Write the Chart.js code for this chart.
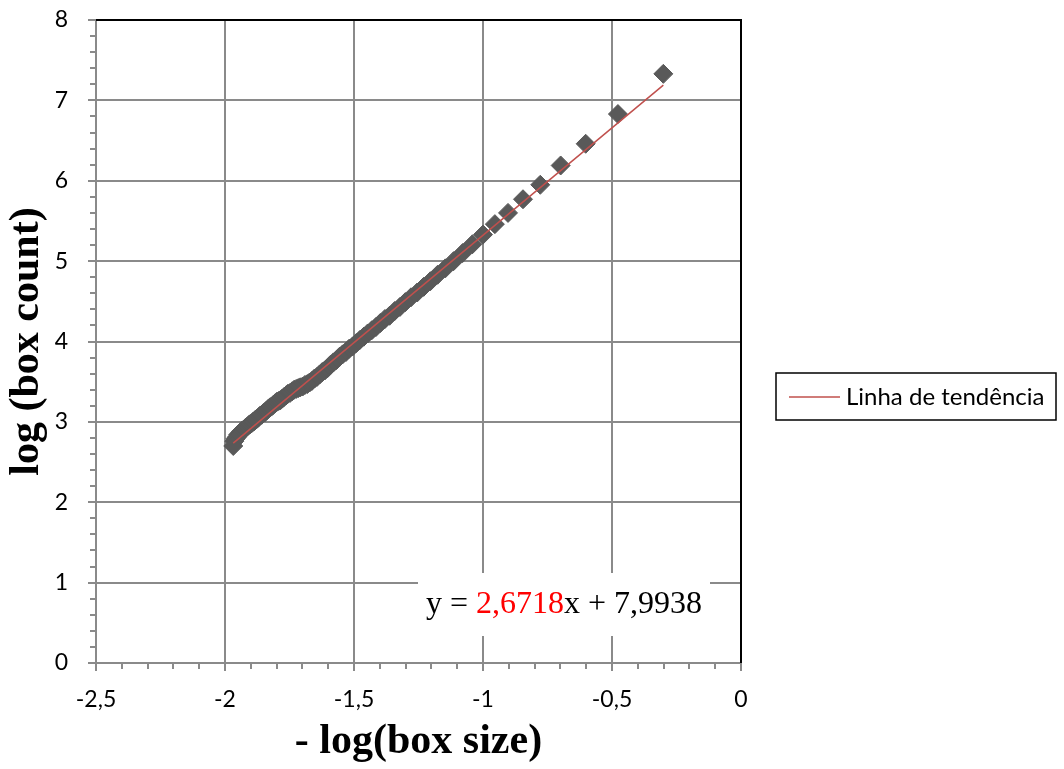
<!DOCTYPE html>
<html>
<head>
<meta charset="utf-8">
<script src="https://cdn.jsdelivr.net/npm/chart.js@4"></script>
<style>
  html, body { margin: 0; padding: 0; background: #fff; }
  #wrap { width: 1064px; height: 769px; }
</style>
</head>
<body>
<div id="wrap"><canvas id="chart" width="1064" height="769"></canvas></div>
<script>
// -log(box size)
const negLogBoxSize = [
  -0.301, -0.477, -0.602, -0.699, -0.778, -0.845, -0.903, -0.954, -1.000,
  -1.041, -1.079, -1.114, -1.146, -1.176, -1.204, -1.230, -1.255, -1.279,
  -1.301, -1.322, -1.342, -1.362, -1.380, -1.398, -1.415, -1.431, -1.447,
  -1.462, -1.477, -1.491, -1.505, -1.519, -1.531, -1.544, -1.556, -1.568,
  -1.580, -1.591, -1.602, -1.613, -1.623, -1.633, -1.643, -1.653, -1.663,
  -1.672, -1.681, -1.690, -1.699, -1.708, -1.716, -1.724, -1.732, -1.740,
  -1.748, -1.756, -1.763, -1.771, -1.778, -1.785, -1.792, -1.799, -1.806,
  -1.813, -1.820, -1.826, -1.833, -1.839, -1.845, -1.851, -1.857, -1.863,
  -1.869, -1.875, -1.881, -1.886, -1.892, -1.898, -1.903, -1.908, -1.914,
  -1.919, -1.924, -1.929, -1.934, -1.940, -1.944, -1.949, -1.954, -1.959,
  -1.964, -1.968
];
// log(box count)
const logBoxCount = [
  7.33, 6.83, 6.46, 6.19, 5.95, 5.77, 5.60, 5.46, 5.33,
  5.21, 5.10, 5.00, 4.91, 4.83, 4.75, 4.68, 4.61, 4.55,
  4.49, 4.43, 4.38, 4.32, 4.28, 4.23, 4.18, 4.14, 4.10,
  4.06, 4.02, 3.98, 3.94, 3.91, 3.87, 3.84, 3.81, 3.77,
  3.74, 3.71, 3.67, 3.64, 3.62, 3.59, 3.56, 3.54, 3.51,
  3.49, 3.47, 3.46, 3.44, 3.43, 3.42, 3.41, 3.40, 3.38,
  3.36, 3.35, 3.33, 3.31, 3.29, 3.27, 3.26, 3.25, 3.23,
  3.21, 3.19, 3.18, 3.16, 3.14, 3.12, 3.11, 3.09, 3.08,
  3.06, 3.04, 3.03, 3.01, 3.00, 2.98, 2.97, 2.96, 2.94,
  2.93, 2.91, 2.90, 2.89, 2.87, 2.85, 2.84, 2.81, 2.79,
  2.76, 2.70
];
const xTickLabels = ['-2,5', '-2', '-1,5', '-1', '-0,5', '0'];
const yTickLabels = ['0', '1', '2', '3', '4', '5', '6', '7', '8'];
const trendSlope = 2.6718;
const trendIntercept = 7.9938;
const legendLabel = 'Linha de tendência';
const xTitle = '- log(box size)';
const yTitle = 'log (box count)';

const points = negLogBoxSize.map((x, i) => ({ x: x, y: logBoxCount[i] }));
const xMin = Math.min(...negLogBoxSize);
const xMax = Math.max(...negLogBoxSize);
const trendPoints = [
  { x: xMin, y: trendSlope * xMin + trendIntercept },
  { x: xMax, y: trendSlope * xMax + trendIntercept }
];

const GRID = '#8a8a8a';
const TREND = '#c0504d';
const MARKER = '#595959';

// border on top/right, minor ticks, the equation and the legend box
const extras = {
  id: 'extras',
  afterDraw(chart) {
    const { ctx, chartArea: a, scales } = chart;
    ctx.save();

    ctx.strokeStyle = '#000';
    ctx.lineWidth = 2;
    ctx.beginPath();
    ctx.moveTo(a.left, a.top);
    ctx.lineTo(a.right, a.top);
    ctx.lineTo(a.right, a.bottom);
    ctx.stroke();

    ctx.strokeStyle = GRID;
    ctx.lineWidth = 2;
    ctx.beginPath();
    for (let v = 0.2; v < 8; v += 0.2) {
      if (Math.abs(v - Math.round(v)) < 0.01) continue;
      const y = Math.round(scales.y.getPixelForValue(v));
      ctx.moveTo(a.left - 6, y);
      ctx.lineTo(a.left, y);
    }
    for (let v = -2.4; v < 0; v += 0.1) {
      if (Math.abs(v * 2 - Math.round(v * 2)) < 0.01) continue;
      const x = Math.round(scales.x.getPixelForValue(v));
      ctx.moveTo(x, a.bottom);
      ctx.lineTo(x, a.bottom + 6);
    }
    ctx.stroke();

    // equation label
    ctx.fillStyle = '#fff';
    ctx.fillRect(418, 573, 292, 63);
    ctx.font = '32px "Liberation Serif", "Times New Roman", serif';
    ctx.textBaseline = 'middle';
    const parts = [['y = ', '#000'], ['2,6718', '#ff0000'], ['x + 7,9938', '#000']];
    const total = parts.reduce((s, p) => s + ctx.measureText(p[0]).width, 0);
    let tx = 564 - total / 2;
    parts.forEach(([t, c]) => {
      ctx.fillStyle = c;
      ctx.fillText(t, tx, 605);
      tx += ctx.measureText(t).width;
    });

    // legend
    ctx.fillStyle = '#fff';
    ctx.fillRect(776, 373, 280, 47);
    ctx.strokeStyle = '#000';
    ctx.lineWidth = 1.5;
    ctx.strokeRect(776, 373, 280, 47);
    ctx.strokeStyle = TREND;
    ctx.lineWidth = 1.5;
    ctx.beginPath();
    ctx.moveTo(789, 397);
    ctx.lineTo(840, 397);
    ctx.stroke();
    ctx.fillStyle = '#000';
    ctx.font = '24px Lato, "Noto Sans", sans-serif';
    ctx.textAlign = 'left';
    ctx.fillText(legendLabel, 846, 397);

    ctx.restore();
  }
};

new Chart(document.getElementById('chart'), {
  type: 'scatter',
  data: {
    datasets: [
      {
        type: 'line',
        label: legendLabel,
        data: trendPoints,
        borderColor: TREND,
        borderWidth: 1.5,
        pointRadius: 0,
        fill: false
      },
      {
        label: 'dados',
        data: points,
        pointStyle: 'rectRot',
        pointRadius: 9.5,
        pointBackgroundColor: MARKER,
        pointBorderColor: MARKER,
        pointBorderWidth: 1
      }
    ]
  },
  options: {
    responsive: false,
    animation: false,
    layout: { padding: { top: 20, right: 323, left: 0, bottom: 0 } },
    plugins: {
      legend: { display: false },
      tooltip: { enabled: false }
    },
    scales: {
      x: {
        type: 'linear',
        min: -2.5,
        max: 0,
        afterFit: (s) => { s.height = 106; },
        ticks: {
          stepSize: 0.5,
          padding: 15,
          color: '#000',
          font: { family: 'Lato', size: 23 },
          callback: (v, i) => xTickLabels[i]
        },
        grid: { color: GRID, lineWidth: 2, tickLength: 8 },
        border: { color: GRID, width: 2 },
        title: {
          display: true,
          text: xTitle,
          color: '#000',
          padding: { top: 0, bottom: 2 },
          font: { family: '"Liberation Serif", "Times New Roman", serif', size: 42, weight: 'bold' }
        }
      },
      y: {
        min: 0,
        max: 8,
        afterFit: (s) => { s.width = 96; s.paddingTop = 0; s.paddingBottom = 0; },
        ticks: {
          stepSize: 1,
          padding: 20,
          color: '#000',
          font: { family: 'Lato', size: 23 },
          callback: (v, i) => yTickLabels[i]
        },
        grid: { color: GRID, lineWidth: 2, tickLength: 8 },
        border: { color: GRID, width: 2 },
        title: {
          display: true,
          text: yTitle,
          color: '#000',
          padding: { top: 2, bottom: 0 },
          font: { family: '"Liberation Serif", "Times New Roman", serif', size: 42, weight: 'bold' }
        }
      }
    }
  },
  plugins: [extras]
});
</script>
</body>
</html>
